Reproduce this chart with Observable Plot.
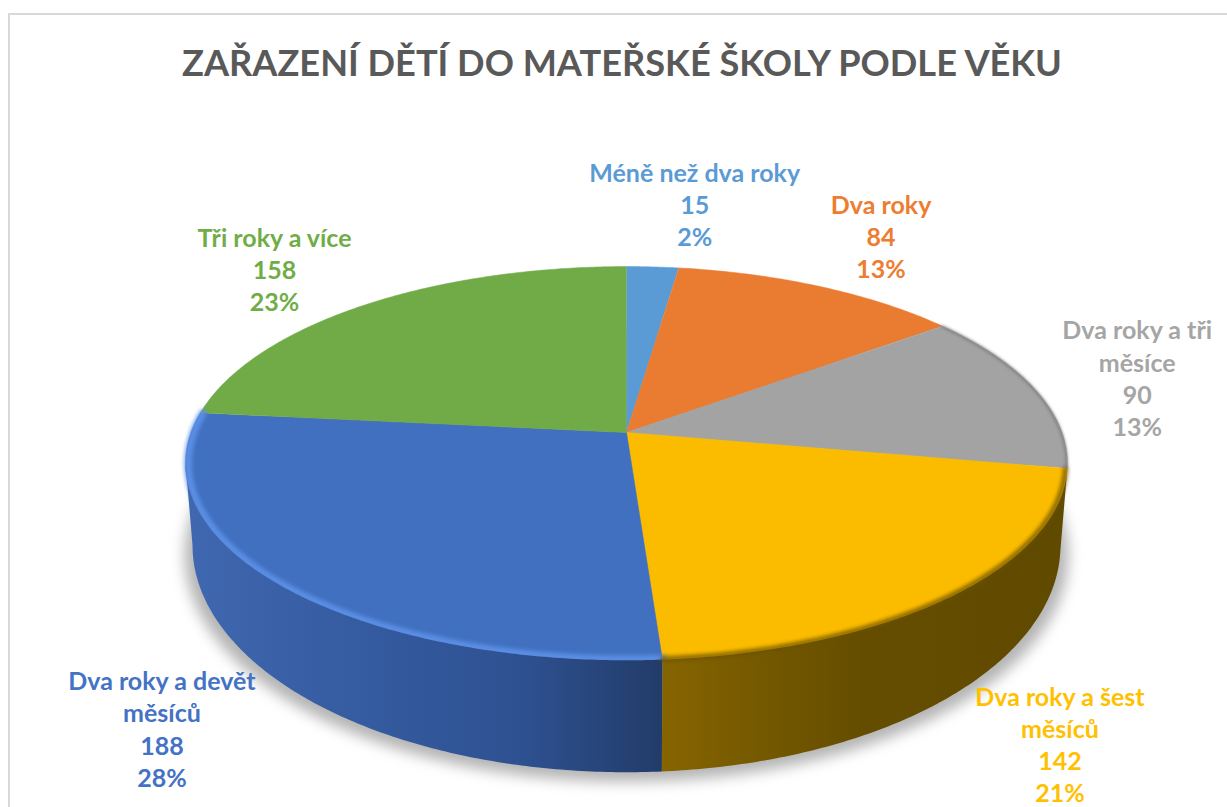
<!DOCTYPE html>
<html lang="cs"><head><meta charset="utf-8">
<script src="https://cdn.jsdelivr.net/npm/d3@7"></script>
<script src="https://cdn.jsdelivr.net/npm/@observablehq/plot@0.6"></script>
<style>
html,body{margin:0;background:#fff;}
#page{position:relative;width:1227px;height:807px;overflow:hidden;font-family:Lato,"Open Sans",sans-serif;}
#frame{position:absolute;left:8px;top:13px;width:1300px;height:900px;border:2px solid #d9d9d9;}
#title{position:relative;height:100px;text-align:center;box-sizing:border-box;padding:37px 0 0 17px;font-size:36.2px;line-height:50px;font-weight:700;color:#595959;white-space:nowrap;}
#chart svg{display:block;position:relative;}
</style></head>
<body><div id="page"><div id="frame"></div><div id="title">ZAŘAZENÍ DĚTÍ DO MATEŘSKÉ ŠKOLY PODLE VĚKU</div><div id="chart"></div></div>
<script>
const categories = ["Méně než dva roky","Dva roky","Dva roky a tři měsíce","Dva roky a šest měsíců","Dva roky a devět měsíců","Tři roky a více"];
const labelLines = [["Méně než dva roky"],["Dva roky"],["Dva roky a tři","měsíce"],["Dva roky a šest","měsíců"],["Dva roky a devět","měsíců"],["Tři roky a více"]];
const values = [15,84,90,142,188,158];
const percents = ["2%","13%","13%","21%","28%","23%"];
const colors = ["#5b9bd5","#ea7c31","#a3a3a3","#fbbc00","#4170c0","#70ab47"];
const labelColors = ["#5b9bd5","#ed7d31","#a5a5a5","#ffc000","#4472c4","#70ad47"];

// Perspective projection of the pie disc
const k = 0.157, ecy = 31/192, drop = 82/192, bx = 434/441, by = 227/197;
const top3d = t => { const w = 1 + k*Math.cos(t); return {x: Math.sin(t)/w, y: -Math.cos(t)/w}; };
const bot3d = t => { const p = top3d(t); return {x: p.x*bx, y: ecy + drop + (p.y-ecy)*by}; };
const total = d3.sum(values);
let acc = 0;
const slices = categories.map((name,i) => {
  const a0 = acc/total*2*Math.PI; acc += values[i]; const a1 = acc/total*2*Math.PI;
  return {name,i,a0,a1,mid:(a0+a1)/2};
});
const angles = (a0,a1,step=0.01) => { const n = Math.max(2,Math.ceil((a1-a0)/step)); return d3.range(n+1).map(j => a0+(a1-a0)*j/n); };
const sliceTop = slices.flatMap(s => [{x:0,y:0,name:s.name}, ...angles(s.a0,s.a1).map(t => ({...top3d(t),name:s.name}))]);
const rim = (s,scale=1) => angles(s.a0,s.a1).map(t => { const p = top3d(t); return {x:p.x*scale,y:ecy+(p.y-ecy)*scale}; });
const visFrom = 99*Math.PI/180, visTo = 261*Math.PI/180;
const wall = s => { const a0 = Math.max(s.a0,visFrom), a1 = Math.min(s.a1,visTo);
  const as = angles(a0,a1); return [...as.map(top3d), ...as.slice().reverse().map(bot3d)]; };
const outline = angles(0,2*Math.PI).map(t => { const p = bot3d(t); return {x:p.x,y:p.y}; });
const shadow = outline.map(p => ({x:p.x*1.018,y:p.y+0.05}));

const a = 435.5, b = 192, cx = 626, cy = 332, W = 1227, H = 707;
const textOffsets = [[42,-63],[61,-51],[102,-12],[105,149],[-113,146],[-91,-36]];
const labels = slices.map(s => { const p = top3d(s.mid); return {...p, text:[...labelLines[s.i],String(values[s.i]),percents[s.i]].join("\n")}; });

const [grey,yellow,blue] = [slices[2],slices[3],slices[4]];
const plot = Plot.plot({
  width:W,height:H,margin:0,
  x:{domain:[-cx/a,(W-cx)/a],range:[0,W],axis:null},
  y:{domain:[-cy/b,(H-cy)/b],range:[0,H],axis:null},
  color:{domain:categories,range:colors},
  style:{background:"transparent",overflow:"visible"},
  marks:[
    Plot.line(shadow,{x:"x",y:"y",fill:"#b4b4b4",stroke:"none",imageFilter:"blur(7px)"}),
    Plot.line(sliceTop,{x:"x",y:"y",z:"name",fill:"name",stroke:"name",strokeWidth:0.5,curve:"linear"}),
    Plot.line(rim(blue,0.994),{x:"x",y:"y",stroke:"#5c90e6",strokeWidth:7,imageFilter:"blur(2px)"}),
    Plot.line(wall(yellow),{x:"x",y:"y",fill:"url(#wallYellow)",stroke:"none"}),
    Plot.line(wall(blue),{x:"x",y:"y",fill:"url(#wallBlue)",stroke:"none"}),
    Plot.line(rim(yellow,0.996),{x:"x",y:"y",stroke:"#6b5100",strokeWidth:4,imageFilter:"blur(2px)"}),
    Plot.line(rim(grey,0.998),{x:"x",y:"y",stroke:"#777",strokeWidth:2,imageFilter:"blur(1.5px)"}),
    ...labels.map((d,i) => Plot.text([d],{x:"x",y:"y",text:"text",dx:textOffsets[i][0],dy:textOffsets[i][1],
      fill:labelColors[i],fontSize:25,fontWeight:700,fontFamily:"Lato",lineHeight:1.29,textAnchor:"middle"}))
  ]
});
const defs = d3.select(plot).insert("defs",":first-child");
const grad = (id,stops) => { const g = defs.append("linearGradient").attr("id",id).attr("x1",0).attr("x2",1).attr("y1",0).attr("y2",0);
  stops.forEach(([o,c]) => g.append("stop").attr("offset",o).attr("stop-color",c)); };
grad("wallBlue",[[0,"#4068b0"],[0.4,"#345a9f"],[0.7,"#2e5191"],[1,"#223c69"]]);
grad("wallYellow",[[0,"#866500"],[0.3,"#715600"],[0.5,"#654d00"],[1,"#604a00"]]);
document.getElementById("chart").append(plot);
</script></body></html>
